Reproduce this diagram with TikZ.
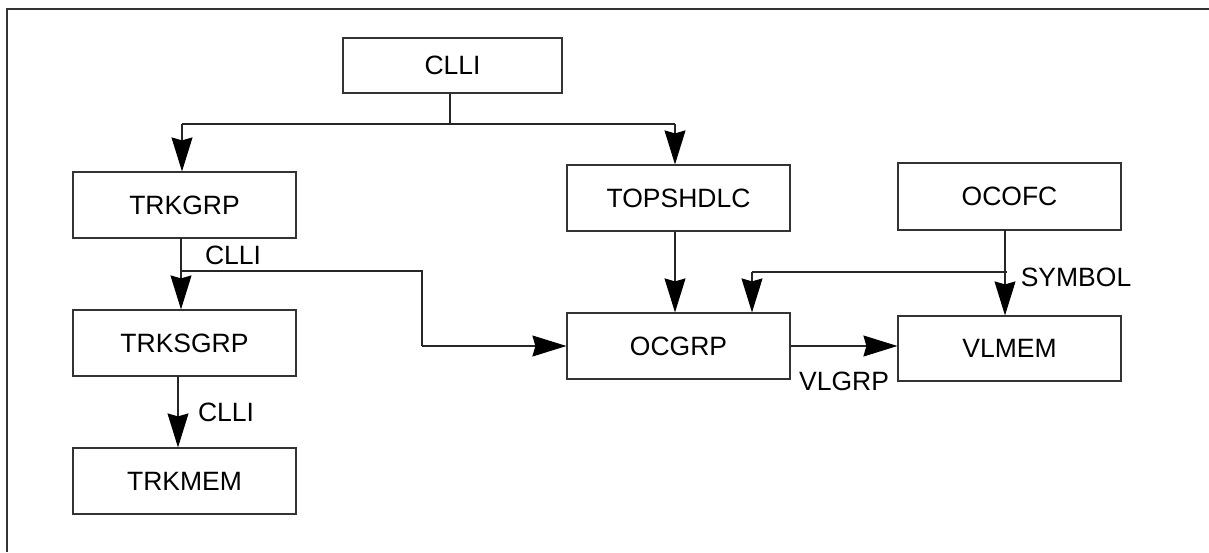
\documentclass[tikz,border=0pt]{standalone}
\usepackage{fontspec}
\setmainfont{Liberation Sans}
\usetikzlibrary{arrows.meta}
\begin{document}
\begin{tikzpicture}[x=1pt,y=-1pt,
  box/.style={draw=black!80,line width=1.2pt,minimum width=223pt,minimum height=66pt,inner sep=0pt,font=\fontsize{26.5}{30}\selectfont},
  lbl/.style={inner sep=0pt,font=\fontsize{26.5}{30}\selectfont},
  conn/.style={draw=black!85,line width=1.1pt},
  arr/.style={conn,-{Stealth[length=34pt,width=21pt,inset=3pt,black]}}]
\useasboundingbox (0,0) rectangle (1209,552);
\draw[black!80,line width=2pt] (1209,9) -- (7,9) -- (7,552);
\node[box,minimum width=219pt,minimum height=55pt] (clli) at (452.5,65.5) {CLLI};
\node[box] (trkgrp) at (184.5,205) {TRKGRP};
\node[box] (topshdlc) at (678.5,198) {TOPSHDLC};
\node[box,minimum height=67pt] (ocofc) at (1009.5,196.5) {OCOFC};
\node[box] (trksgrp) at (184.5,343) {TRKSGRP};
\node[box] (ocgrp) at (678.5,346) {OCGRP};
\node[box,minimum height=65pt] (vlmem) at (1009.5,348.5) {VLMEM};
\node[box] (trkmem) at (184.5,481) {TRKMEM};
% bus from CLLI
\coordinate (busc) at (450,124);
\coordinate (busl) at (182,124);
\coordinate (busr) at (675,124);
\draw[conn] (clli.south -| busc) -- (busc);
\draw[conn] (busl) -- (busr);
\draw[arr] (busl) -- (busl |- trkgrp.north);
\draw[arr] (busr) -- (busr |- topshdlc.north);
% TRKGRP -> TRKSGRP and OCGRP
\coordinate (tg) at (181,238);
\coordinate (tb) at (181,271);
\coordinate (tk1) at (422,271);
\coordinate (tk2) at (422,346);
\draw[arr] (tg) -- (tg |- trksgrp.north);
\draw[conn] (tb) -- (tk1) -- (tk2);
\draw[arr] (tk2) -- (ocgrp.west);
\node[lbl] (l1) at (233,255) {CLLI};
% TRKSGRP -> TRKMEM
\coordinate (ts) at (178,376);
\draw[arr] (ts) -- (ts |- trkmem.north);
\node[lbl] (l2) at (226,412) {CLLI};
% TOPSHDLC -> OCGRP
\draw[arr] (topshdlc.south -| busr) -- (ocgrp.north -| busr);
% OCOFC -> VLMEM and OCGRP
\coordinate (oc) at (1005,230);
\coordinate (ob) at (1007,272);
\coordinate (ol) at (752,272);
\draw[arr] (oc) -- (oc |- vlmem.north);
\draw[conn] (ob) -- (ol);
\draw[arr] (ol) -- (ol |- ocgrp.north);
\node[lbl] (l3) at (1076,277) {SYMBOL};
% OCGRP -> VLMEM
\draw[arr] (ocgrp.east) -- (ocgrp.east -| vlmem.west);
\node[lbl] (l4) at (844,381) {VLGRP};
\end{tikzpicture}
\end{document}
